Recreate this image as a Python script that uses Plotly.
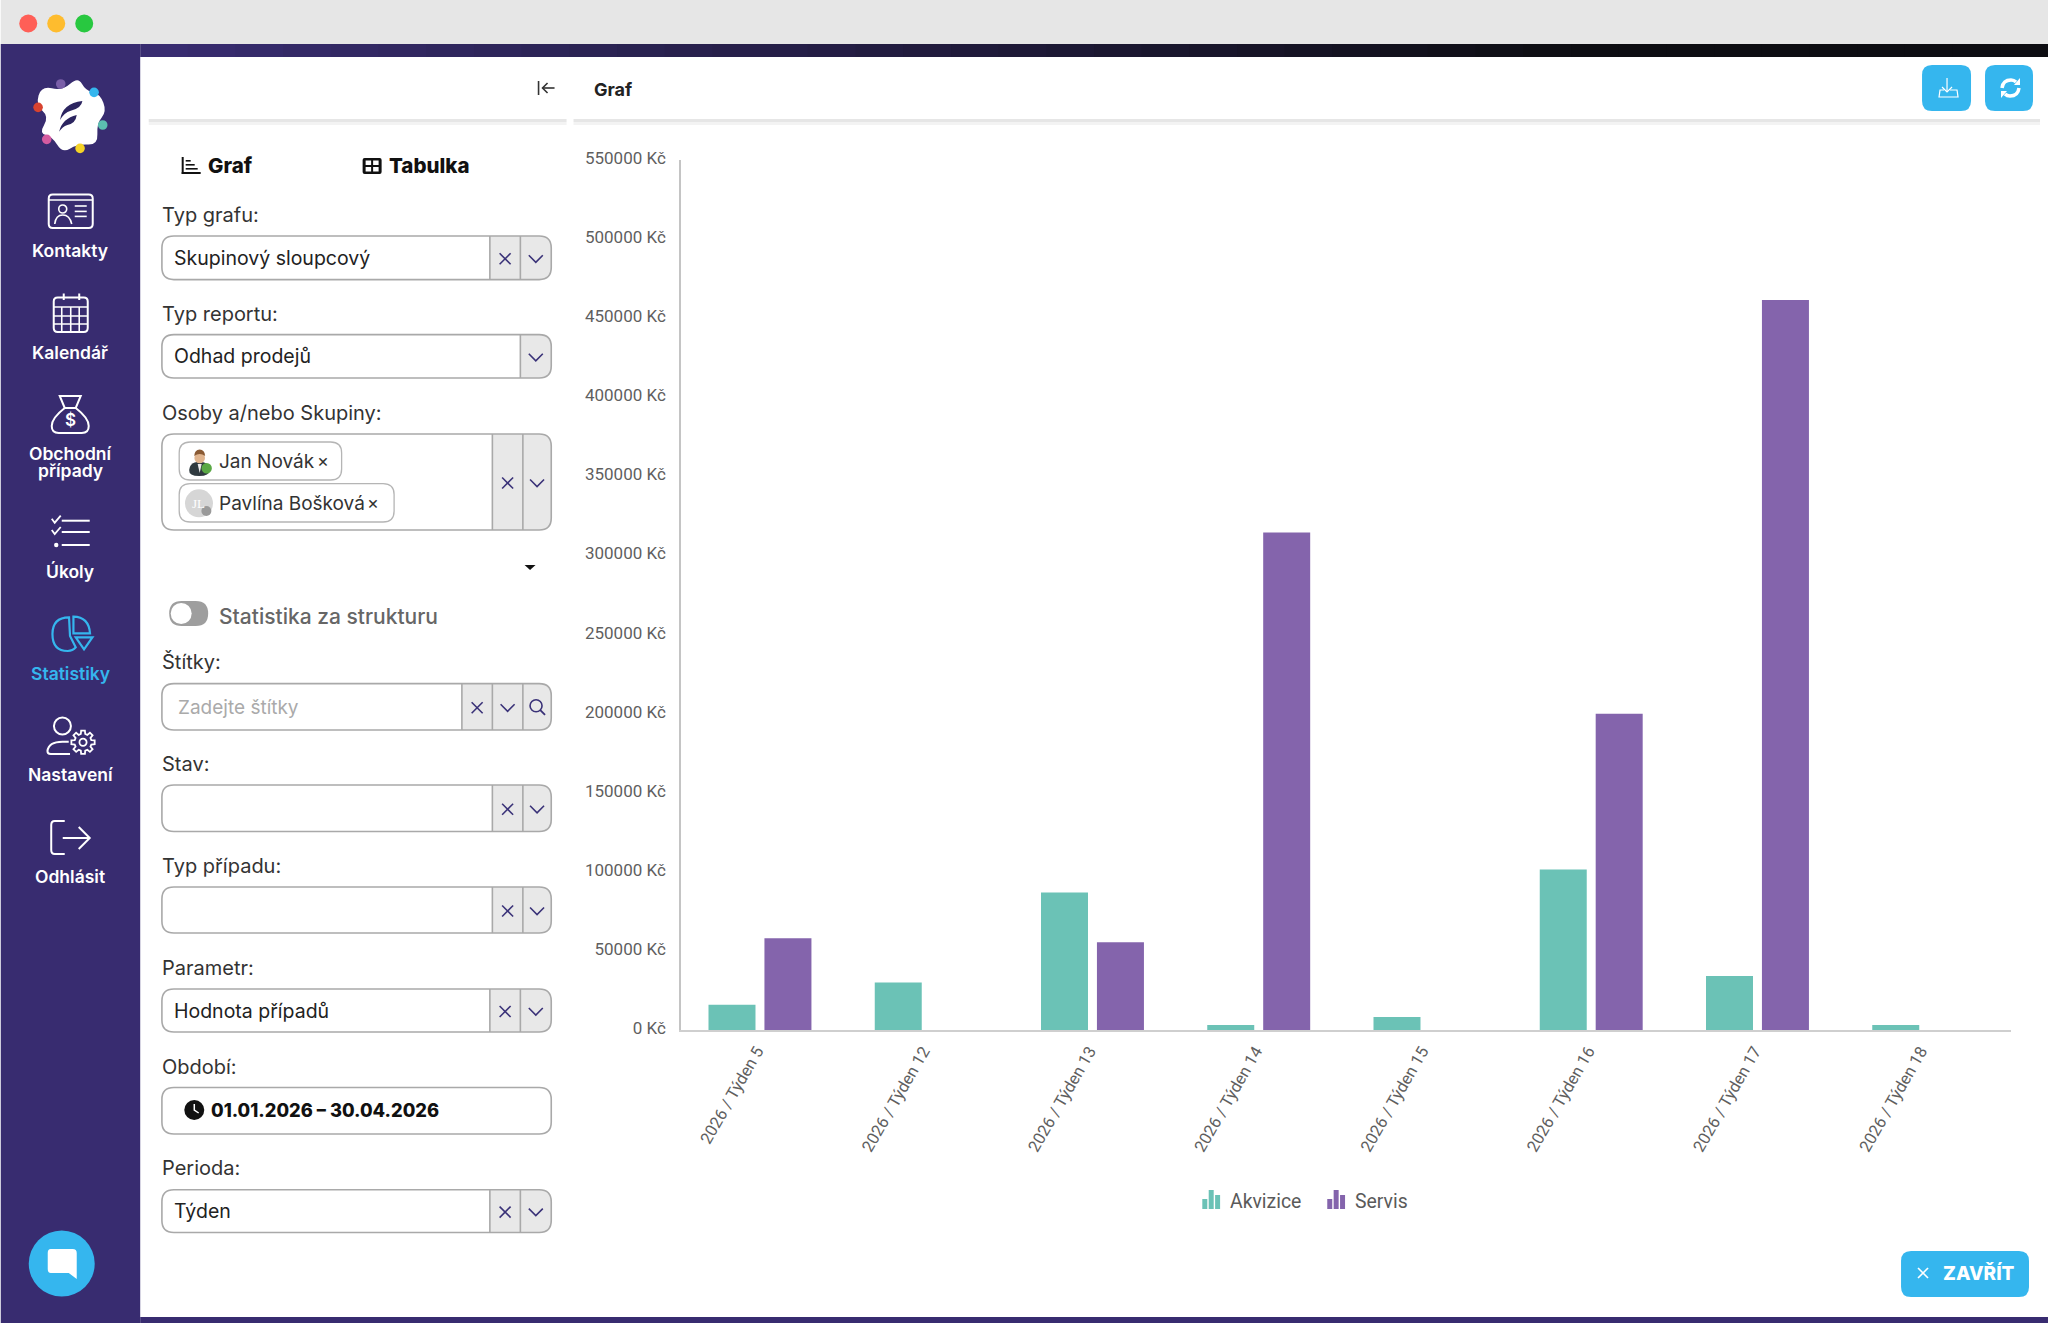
import math
import plotly.graph_objects as go

# ---- chart data ----
categories = ["2026 / Týden 5", "2026 / Týden 12", "2026 / Týden 13", "2026 / Týden 14",
              "2026 / Týden 15", "2026 / Týden 16", "2026 / Týden 17", "2026 / Týden 18"]
akvizice = [16000, 30000, 87000, 3200, 8200, 101500, 34200, 3200]
servis = [58000, 0, 55500, 314500, 0, 200000, 461500, 0]
y_ticks = [0, 50000, 100000, 150000, 200000, 250000, 300000, 350000, 400000, 450000, 500000, 550000]
y_tick_labels = ["0 Kč", "50000 Kč", "100000 Kč", "150000 Kč", "200000 Kč", "250000 Kč", "300000 Kč",
                 "350000 Kč", "400000 Kč", "450000 Kč", "500000 Kč", "550000 Kč"]
series_names = ["Akvizice", "Servis"]
series_colors = ["#6BC2B6", "#8464AC"]

W, H = 2048, 1323
L, R, T, B = 680.5, 2011.0, 160.0, 1030.0

def px(x): return (x - L) / (R - L)
def py(y): return (B - y) / (B - T)
def P(x, y): return f"{px(x):.5f} {py(y):.5f}"

shapes, notes = [], []
BLUE, NAVY = "#35B6EE", "#382C70"
UI = "Inter"

def rect(x0, y0, x1, y1, fill, line=None, lw=0):
    shapes.append(dict(type="rect", xref="paper", yref="paper", x0=px(x0), x1=px(x1), y0=py(y0), y1=py(y1),
                       fillcolor=fill, line=dict(color=line or fill, width=lw)))

def circle(cx, cy, r, fill="rgba(0,0,0,0)", line=None, lw=0):
    shapes.append(dict(type="circle", xref="paper", yref="paper", x0=px(cx - r), x1=px(cx + r), y0=py(cy + r), y1=py(cy - r),
                       fillcolor=fill, line=dict(color=line or fill, width=lw)))

def path(d, fill="rgba(0,0,0,0)", line=None, lw=0):
    shapes.append(dict(type="path", xref="paper", yref="paper", path=d, fillcolor=fill,
                       line=dict(color=line or "rgba(0,0,0,0)", width=lw)))

def rr_path(x0, y0, x1, y1, r, rl=True, rr=True):
    a, b = (r if rl else 0), (r if rr else 0)
    return (f"M {P(x0 + a, y0)} L {P(x1 - b, y0)} Q {P(x1, y0)} {P(x1, y0 + b)} L {P(x1, y1 - b)} "
            f"Q {P(x1, y1)} {P(x1 - b, y1)} L {P(x0 + a, y1)} Q {P(x0, y1)} {P(x0, y1 - a)} "
            f"L {P(x0, y0 + a)} Q {P(x0, y0)} {P(x0 + a, y0)} Z")

def rrect(x0, y0, x1, y1, r, fill, line=None, lw=0, **k):
    path(rr_path(x0, y0, x1, y1, r, **k), fill, line, lw)

def pline(pts, color, lw=2, close=False, fill="rgba(0,0,0,0)"):
    d = "M " + " L ".join(P(*p) for p in pts) + (" Z" if close else "")
    path(d, fill, color, lw)

def smooth(pts):
    n = len(pts)
    mid = lambda a, b: ((a[0] + b[0]) / 2, (a[1] + b[1]) / 2)
    d = "M " + P(*mid(pts[-1], pts[0]))
    for i in range(n):
        d += f" Q {P(*pts[i])} {P(*mid(pts[i], pts[(i + 1) % n]))}"
    return d + " Z"

def text(x, y, s, size=18, color="#333", anchor="left", weight=400, family=UI):
    if anchor == "left":
        x -= 2
    notes.append(dict(xref="paper", yref="paper", x=px(x), y=py(y), text=s, showarrow=False, xanchor=anchor,
                      yanchor="middle", borderpad=0, font=dict(family=family, size=size, color=color, weight=weight)))

# ---- window chrome ----
rect(0, 0, W, 44, "#E6E6E6")
for cx, c in zip((27.5, 55.5, 83.5), ("#FF5F57", "#FEBC2E", "#28C840")):
    circle(cx, 23.5, 9, c)
rect(0, 44, 139.5, 1323, NAVY)
rect(139.5, 1317, W, 1323, NAVY)
steps = 40
c0, c1 = (56, 44, 112), (13, 13, 18)
for i in range(steps):
    t = min(1, i / (steps * 0.74))
    col = "rgb(%d,%d,%d)" % tuple(round(a + (b - a) * t) for a, b in zip(c0, c1))
    rect(139.5 + i * (W - 139.5) / steps, 44, 139.5 + (i + 1) * (W - 139.5) / steps + 1, 57, col)
for x0, x1 in ((148, 566), (573, 2040)):
    rect(x0, 119, x1, 122, "#E6E6E6")
    rect(x0, 122, x1, 125, "#F3F3F3")

# ---- header of the chart pane ----
text(594, 89, "Graf", 18, "#222", weight=700)
pline([(538, 81), (538, 95)], "#333", 1.6)
pline([(554, 88), (542, 88)], "#333", 1.6)
pline([(547, 83), (542, 88), (547, 93)], "#333", 1.6)
rrect(1922, 65, 1971, 111, 10, BLUE)
rrect(1985, 65, 2033, 111, 10, BLUE)
pline([(1947, 78), (1947, 92)], "#fff", 1.2)
pline([(1942, 87), (1947, 92), (1952, 87)], "#fff", 1.2)
path(f"M {P(1944, 90)} L {P(1940, 90)} L {P(1939, 97)} L {P(1958, 97)} L {P(1957, 90)} L {P(1950, 90)}", line="#fff", lw=1.2)
path(f"M {P(2002, 88)} Q {P(2003, 80)} {P(2011, 80)} Q {P(2014, 80)} {P(2016, 82)}", line="#fff", lw=3.5)
path(f"M {P(2019, 88)} Q {P(2018, 96)} {P(2010, 96)} Q {P(2007, 96)} {P(2005, 94)}", line="#fff", lw=3.5)
pline([(2014, 85), (2020, 85), (2020, 78)], "#fff", 0, True, "#fff")
pline([(2007, 91), (2001, 91), (2001, 98)], "#fff", 0, True, "#fff")
rrect(1901, 1251, 2029, 1297, 10, BLUE)
pline([(1918, 1268), (1928, 1278)], "#fff", 1.6)
pline([(1928, 1268), (1918, 1278)], "#fff", 1.6)
text(1944, 1273, "ZAVŘÍT", 19, "#fff", weight=800)

# ---- left panel ----
rect(181, 157, 183, 174, "#111")
rect(181, 172, 200, 174, "#111")
for y, x1 in ((160, 190), (164, 194), (168, 197)):
    rect(185, y, x1, y + 1.6, "#111")
text(208, 165, "Graf", 20.5, "#111", weight=800)
rrect(362, 158, 381, 174, 2, "#111")
for x0, x1 in ((365, 370.5), (372.5, 378)):
    for y0, y1 in ((160.5, 165), (167, 171.5)):
        rect(x0, y0, x1, y1, "#fff")
text(389, 165, "Tabulka", 20.5, "#111", weight=800)

BOX_LINE = "#A9A9A9"
GREY = "#E8E8E8"
XCOL = "#3A3278"
BX0, BX1 = 161.2, 550.7

def cross(cx, cy, s=5.5):
    pline([(cx - s, cy - s), (cx + s, cy + s)], XCOL, 1.6)
    pline([(cx + s, cy - s), (cx - s, cy + s)], XCOL, 1.6)

def chevron(cx, cy):
    pline([(cx - 7, cy - 3.5), (cx, cy + 3.5), (cx + 7, cy - 3.5)], XCOL, 1.6)

def field(label, ly, y0, y1, value=None, vy=None, cells=(489.3, 519.8), glyphs=("x", "v"), ph=False):
    text(162, ly, label, 20, "#333")
    rrect(cells[0], y0, BX1, y1, 12, GREY, rl=False)
    rrect(BX0, y0, BX1, y1, 12, "rgba(0,0,0,0)", BOX_LINE, 1.6)
    for c in cells:
        pline([(c, y0), (c, y1)], BOX_LINE, 1.6)
    edges = list(cells) + [BX1]
    cy = (y0 + y1) / 2 + 1
    for i, g in enumerate(glyphs):
        cx = (edges[i] + edges[i + 1]) / 2
        if g == "x":
            cross(cx, cy)
        elif g == "v":
            chevron(cx, cy)
        else:
            circle(cx - 1, cy - 2, 6, line=XCOL, lw=1.6)
            pline([(cx + 3, cy + 2), (cx + 8, cy + 7)], XCOL, 1.8)
    if value:
        text(174.5 if not ph else 178, vy, value, 19 if ph else 19.5, "#AAAAAA" if ph else "#222")

field("Typ grafu:", 215, 236, 279.6, "Skupinový sloupcový", 258)
field("Typ reportu:", 314, 334.6, 378, "Odhad prodejů", 356, cells=(519.8,), glyphs=("v",))
field("Osoby a/nebo Skupiny:", 413, 434, 530, cells=(491.8, 522.3))
field("Štítky:", 662, 683.6, 730, "Zadejte štítky", 707, cells=(461.3, 491.8, 522.3), glyphs=("x", "v", "s"), ph=True)
field("Stav:", 764, 785, 831.5, cells=(491.8, 522.3))
field("Typ případu:", 866, 887, 933, cells=(491.8, 522.3))
field("Parametr:", 968, 989, 1032, "Hodnota případů", 1010.6)
field("Perioda:", 1168, 1189.7, 1232.5, "Týden", 1211)

# chips
rrect(178.5, 442, 341, 480, 11, "#fff", "#B5B5B5", 1.3)
rrect(178.5, 483.6, 393.5, 522, 11, "#fff", "#B5B5B5", 1.3)
text(219, 461, "Jan Novák", 19, "#333")
text(219, 503, "Pavlína Bošková", 19, "#333")
text(317, 460, "×", 18, "#333")
text(367.5, 502, "×", 18, "#333")
path(smooth([(188, 476), (189, 464), (199, 461), (208, 464), (209, 476)]), "#2F3A3F")
pline([(197, 464), (201, 464), (199, 473)], "#EDEDED", 0, True, "#EDEDED")
circle(199, 458, 5.3, "#E0B48E")
path(f"M {P(193.5, 456)} Q {P(194, 449.5)} {P(199, 449.5)} Q {P(204, 449.5)} {P(204.5, 456)} Q {P(199, 452)} {P(193.5, 456)} Z", "#8A5A34")
circle(206, 468.3, 5.2, "#5AA845")
circle(198.3, 503.3, 14, "#D6D6D6")
text(198.3, 503, "JL", 13, "#fff", "center", family="Liberation Serif")
circle(205.7, 511, 5, "#9A9A9A")

# caret and toggle
pline([(524, 565), (535, 565), (529.5, 570)], "#111", 0, True, "#111")
rrect(168.5, 601, 207.5, 626, 12.5, "#9E9E9E")
circle(180.5, 613.5, 10.5, "#fff")
text(219, 616, "Statistika za strukturu", 21, "#666", weight=500)

# period field
text(162, 1066.6, "Období:", 20, "#333")
rrect(BX0, 1087.5, BX1, 1134, 12, "#fff", BOX_LINE, 1.6)
circle(193.6, 1110, 10, "#111")
pline([(193.6, 1104), (193.6, 1110), (198, 1113)], "#fff", 1.5)
text(211, 1110, "01.01.2026 – 30.04.2026", 18.3, "#111", weight=800)

# ---- sidebar ----
def zl(zx, zy):
    return (20 + zx / 3, 70 + zy / 3)

blob = [zl(*p) for p in ((172, 20), (195, 62), (238, 72), (258, 125), (228, 160), (232, 225), (170, 222),
                         (125, 250), (95, 200), (55, 190), (85, 140), (45, 105), (62, 48), (125, 62))]
path(smooth(blob), "#fff")
for zx, zy, c in ((120, 42, "#7A5FA8"), (220, 67, "#35B6EE"), (52, 112, "#D8432F"), (246, 165, "#5CBDB0"),
                  (78, 208, "#D45BA0"), (178, 235, "#F5D327")):
    circle(*zl(zx, zy), 4.8, c)
path(f"M {P(*zl(118, 150))} Q {P(*zl(125, 100))} {P(*zl(185, 93))} Q {P(*zl(182, 115))} {P(*zl(150, 122))} Q {P(*zl(130, 128))} {P(*zl(118, 150))} Z", "#2C2560")
path(f"M {P(*zl(115, 185))} Q {P(*zl(125, 145))} {P(*zl(168, 135))} Q {P(*zl(165, 160))} {P(*zl(140, 165))} Q {P(*zl(125, 170))} {P(*zl(115, 185))} Z", "#2C2560")

for label, y, c in (("Kontakty", 250, "#fff"), ("Kalendář", 352, "#fff"), ("Obchodní", 453.6, "#fff"),
                    ("případy", 470.7, "#fff"), ("Úkoly", 571.7, "#fff"), ("Statistiky", 673, BLUE),
                    ("Nastavení", 774.6, "#fff"), ("Odhlásit", 876, "#fff")):
    text(69.5, y, label, 17.5, c, "center", 600)

# contact card
rrect(48, 194.6, 92, 228, 4, "rgba(0,0,0,0)", "#fff", 2)
pline([(48, 200), (92, 200)], "#fff", 1.6)
circle(62, 209, 4, line="#fff", lw=1.6)
path(f"M {P(54, 224)} Q {P(55, 215)} {P(62, 215)} Q {P(69, 215)} {P(71, 224)}", line="#fff", lw=1.6)
for y in (206, 211.4, 216.4):
    pline([(74, y), (86, y)], "#fff", 1.6)
# calendar
rrect(53, 297.5, 87, 332, 4, "rgba(0,0,0,0)", "#fff", 2)
for x in (63, 78.5):
    pline([(x, 293.5), (x, 300)], "#fff", 2)
for y in (307, 316, 324):
    pline([(53, y), (87, y)], "#fff", 1.6)
for x in (61, 70, 78.5):
    pline([(x, 307), (x, 332)], "#fff", 1.6)
# money bag
path(f"M {P(64, 408)} Q {P(51, 418)} {P(51, 426)} Q {P(51, 433)} {P(58, 433)} L {P(81, 433)} Q {P(88, 433)} {P(88, 426)} Q {P(88, 418)} {P(75, 408)} Z",
     line="#fff", lw=2)
pline([(59, 396), (80, 396), (75, 408), (64, 408)], "#fff", 2, True)
text(69.5, 420.5, "$", 17, "#fff", "center", 600)
# tasks
for y in (520.7, 532, 545):
    pline([(61, y), (89, y)], "#fff", 2)
for y in (520.7, 532):
    pline([(51, y - 2), (54, y + 2), (60, y - 5)], "#fff", 1.8)
circle(55.5, 545, 2.2, "#fff")
# statistics
path(f"M {P(68.3, 617.3)} Q {P(51.7, 617.5)} {P(51.7, 634)} Q {P(51.7, 651)} {P(67, 651)} Q {P(72, 651)} {P(75, 647.3)} L {P(69.3, 636)} Z", line=BLUE, lw=2.2)
path(f"M {P(72.7, 616.7)} Q {P(88, 617)} {P(89.3, 633.3)} L {P(72.7, 633.3)} Z", line=BLUE, lw=2.2)
pline([(75, 637.3), (91.7, 637.3), (83.3, 649.3)], BLUE, 2.2, True)
# settings
circle(61.7, 726, 8.5, line="#fff", lw=2)
path(f"M {P(69.3, 754)} L {P(50, 754)} Q {P(46.7, 754)} {P(46.7, 751)} Q {P(48, 741.7)} {P(61.7, 741.7)} L {P(68, 741.7)}", line="#fff", lw=2)
gear = []
for k in range(8):
    a = k * math.pi / 4
    for da, r in ((-0.26, 8.6), (-0.16, 11.8), (0.16, 11.8), (0.26, 8.6)):
        gear.append((82.3 + r * math.cos(a + da), 742.3 + r * math.sin(a + da)))
pline(gear, "#fff", 1.8, True)
circle(82.3, 742.3, 3.6, line="#fff", lw=1.8)
# logout
path(f"M {P(64, 821)} L {P(54, 821)} Q {P(50.5, 821)} {P(50.5, 825)} L {P(50.5, 850)} Q {P(50.5, 854)} {P(54, 854)} L {P(64, 854)}", line="#fff", lw=2)
pline([(62, 838), (89, 838)], "#fff", 2)
pline([(78, 827), (89, 838), (78, 849)], "#fff", 2)
# chat
circle(61, 1263.6, 33, BLUE)
path(f"M {P(50, 1249)} L {P(72, 1249)} Q {P(76, 1249)} {P(76, 1253)} L {P(76, 1279)} L {P(68, 1273)} L {P(50, 1273)} Q {P(47, 1273)} {P(47, 1269)} L {P(47, 1253)} Q {P(47, 1249)} {P(50, 1249)} Z", "#fff")

# ---- custom legend glyphs with three little bars ----
for name, color, gx, tx in zip(series_names, series_colors, (1202, 1327), (1231, 1356)):
    for i, top in enumerate((1199, 1190, 1195)):
        rect(gx + i * 6.4, top, gx + i * 6.4 + 5, 1209, color)
    text(tx, 1201, name, 19.4, "#5A5A5A", family="Roboto")

fig = go.Figure()
for name, vals, color in zip(series_names, (akvizice, servis), series_colors):
    fig.add_trace(go.Bar(name=name, x=categories, y=vals, marker=dict(color=color, line=dict(width=0))))

fig.update_layout(
    width=W, height=H, autosize=False, paper_bgcolor="#fff", plot_bgcolor="#fff", showlegend=False,
    barmode="group", bargap=0.327, bargroupgap=0.16,
    margin=dict(l=L, r=W - R, t=T, b=H - B, pad=0, autoexpand=False),
    font=dict(family="Roboto", size=17, color="#5F5F5F"),
    shapes=shapes, annotations=notes,
    xaxis=dict(type="category", range=[-0.475, 7.525], tickangle=-60, showgrid=False, showline=True,
               linecolor="#CFCFCF", linewidth=2, ticks="", zeroline=False, ticklabelstandoff=3, ticklabelshift=-3,
               tickfont=dict(size=16.5, color="#5F5F5F")),
    yaxis=dict(range=[0, 550000], tickmode="array", tickvals=y_ticks, ticktext=y_tick_labels,
               showgrid=False, showline=True, linecolor="#C4C4C4", linewidth=1.5, ticks="", zeroline=False,
               ticklabelstandoff=10, ticklabelshift=-2, tickfont=dict(size=17, color="#5F5F5F")),
)
fig.write_html("out.html", config={"displayModeBar": False},
               post_script="document.body.style.margin='0';document.documentElement.style.overflow='hidden';")
